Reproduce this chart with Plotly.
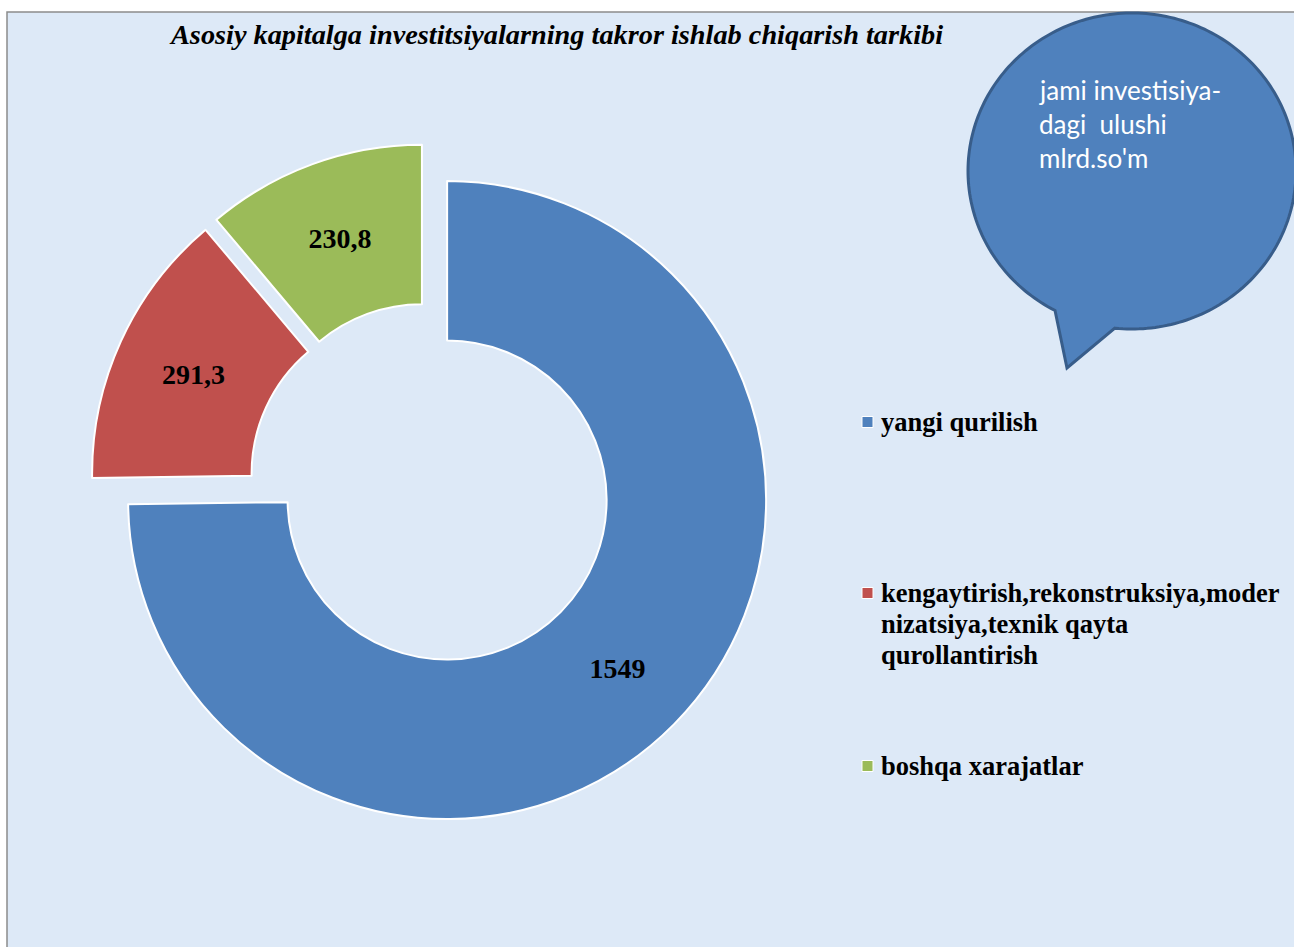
import numpy as np
import plotly.graph_objects as go

# ---------------- data ----------------
categories = [
    "yangi qurilish",
    "kengaytirish,rekonstruksiya,moder<br>nizatsiya,texnik qayta<br>qurollantirish",
    "boshqa xarajatlar",
]
values = [1549, 291.3, 230.8]
value_labels = ["1549", "291,3", "230,8"]
colors = ["#4F81BD", "#C0504D", "#9BBB59"]
title_text = "Asosiy kapitalga investitsiyalarning takror ishlab chiqarish tarkibi"
bubble_lines = ["jami investisiya-", "dagi\u00a0 ulushi", "mlrd.so'm"]

# ---------------- layout helpers ----------------
W, H = 1294, 947


def px(x):
    return x / W


def py(y):
    return 1 - y / H


pulls = [0.082, 0.06, 0.06]
cx, cy, R = 428.5, 481.7, 319.0
half = R * (1 + max(pulls))

fig = go.Figure()
fig.add_trace(go.Pie(
    labels=categories,
    values=values,
    text=value_labels,
    texttemplate="<b>%{text}</b>",
    textposition="inside",
    insidetextorientation="horizontal",
    textfont=dict(family="Liberation Serif", size=28, color="black"),
    marker=dict(colors=colors, line=dict(color="white", width=2)),
    hole=0.5,
    pull=pulls,
    sort=False,
    direction="clockwise",
    rotation=0,
    showlegend=False,
    domain=dict(x=[px(cx - half), px(cx + half)],
                y=[py(cy + half), py(cy - half)]),
    hovertemplate="%{label}: %{text}<extra></extra>",
))

shapes = []
# background panel with grey border
shapes.append(dict(type="rect", xref="paper", yref="paper",
                   x0=px(7), x1=px(W + 20), y0=py(H + 20), y1=py(12),
                   fillcolor="#dde9f7", line=dict(color="#8c8c8c", width=1.5),
                   layer="below"))

# speech bubble
bcx, bcy, brx, bry = 1132, 171, 164, 158
tA = np.deg2rad(96)
tB = np.deg2rad(118 - 360)
ts = np.linspace(tA, tB, 240)
pts = [(bcx + brx * np.cos(t), bcy + bry * np.sin(t)) for t in ts]
pts.append((1067, 368))
path = "M " + " L ".join(f"{px(x):.5f},{py(y):.5f}" for x, y in pts) + " Z"
shapes.append(dict(type="path", xref="paper", yref="paper", path=path,
                   fillcolor="#4F81BD", line=dict(color="#385D8A", width=3)))

annotations = []
annotations.append(dict(text=f"<b><i>{title_text}</i></b>", xref="paper", yref="paper",
                        x=px(556), y=py(35), xanchor="center", yanchor="middle",
                        showarrow=False,
                        font=dict(family="Liberation Serif", size=28.3, color="black")))

for i, line in enumerate(bubble_lines):
    annotations.append(dict(text=line, xref="paper", yref="paper",
                            x=px(1037), y=py(90 + 34 * i), xanchor="left", yanchor="middle",
                            showarrow=False,
                            font=dict(family="Lato", size=26, color="white")))

# manual legend
leg_y = [422, 593, 766]
for cat, col, y0 in zip(categories, colors, leg_y):
    shapes.append(dict(type="rect", xref="paper", yref="paper",
                       x0=px(862), x1=px(873), y0=py(y0 + 5.5), y1=py(y0 - 5.5),
                       fillcolor=col, line=dict(color="white", width=1)))
    for j, line in enumerate(cat.split("<br>")):
        annotations.append(dict(text=f"<b>{line}</b>", xref="paper", yref="paper",
                                x=px(879), y=py(y0 + 31 * j), xanchor="left", yanchor="middle",
                                showarrow=False,
                                font=dict(family="Liberation Serif", size=26.5, color="black")))

fig.update_layout(
    width=W, height=H,
    margin=dict(l=0, r=0, t=0, b=0),
    paper_bgcolor="white",
    plot_bgcolor="white",
    shapes=shapes,
    annotations=annotations,
)

fig.write_html("out.html", config={"displayModeBar": False},
               post_script="document.body.style.margin='0';")
